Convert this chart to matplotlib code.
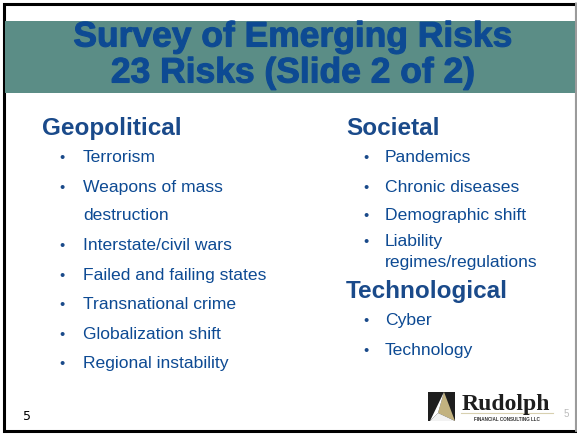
import matplotlib.pyplot as plt
import matplotlib.patheffects as pe
from matplotlib.patches import Rectangle, Polygon

# slide content
title_lines = ["Survey of Emerging Risks", "23 Risks (Slide 2 of 2)"]
left_header = "Geopolitical"
left_items = ["Terrorism", "Weapons of mass\ndestruction", "Interstate/civil wars",
              "Failed and failing states", "Transnational crime",
              "Globalization shift", "Regional instability"]
right_header = "Societal"
right_items = ["Pandemics", "Chronic diseases", "Demographic shift",
               "Liability\nregimes/regulations"]
right_header2 = "Technological"
right_items2 = ["Cyber", "Technology"]
page_number = "5"

W, H = 577, 435
BLUE = "#0d4a93"
HEAD = "#1a4a8a"
TEAL = "#5b8d86"
FONT = "Liberation Sans"
ITEM_FS = 12.6
HEAD_FS = 17.5

fig = plt.figure(figsize=(W / 100, H / 100), dpi=100)
ax = fig.add_axes([0, 0, 1, 1])
ax.set_xlim(0, W)
ax.set_ylim(H, 0)
ax.axis("off")

# frame
ax.add_patch(Rectangle((3.5, 4.5), W - 5, H - 8, fill=False, ec="black", lw=2.2))
ax.plot([575.5, 575.5], [4, 432], color="#bbbbbb", lw=1.2)

# title band; draw title glyphs as filled + stroked paths so they look heavier
ax.add_patch(Rectangle((5, 22), 570, 72, color=TEAL, lw=0))
heavy = [pe.PathPatchEffect(facecolor=BLUE, edgecolor=BLUE, linewidth=0.8)]
for i, line in enumerate(title_lines):
    ax.text(293, 47.5 + i * 36, line, ha="center", va="baseline", color=BLUE,
            fontsize=25.5, fontweight="bold", family=FONT, path_effects=heavy)


def item(xb, xt, y, txt):
    ax.text(xb, y, "\u2022", ha="center", va="center", color=HEAD, fontsize=10.5, family=FONT)
    ax.text(xt, y, txt, ha="left", va="center", color=BLUE, fontsize=ITEM_FS, family=FONT)


# left column
ax.text(42, 129, left_header, ha="left", va="center", color=HEAD, fontsize=HEAD_FS,
        fontweight="bold", family=FONT)
left_y = [158, 188, 246, 276, 305, 335, 364]
for txt, y in zip(left_items, left_y):
    a, _, b = txt.partition("\n")
    item(62, 83, y, a)
    if b:
        ax.text(83, y + 28, b, ha="left", va="center", color=BLUE, fontsize=ITEM_FS, family=FONT)

# right column
ax.text(346, 129, right_header, ha="left", va="center", color=HEAD, fontsize=HEAD_FS,
        fontweight="bold", family=FONT)
right_y = [158, 188, 216, 242]
for txt, y in zip(right_items, right_y):
    a, _, b = txt.partition("\n")
    item(366, 385, y, a)
    if b:
        ax.text(385, y + 21, b, ha="left", va="center", color=BLUE, fontsize=ITEM_FS, family=FONT)

ax.text(346, 292, right_header2, ha="left", va="center", color=HEAD, fontsize=HEAD_FS,
        fontweight="bold", family=FONT)
for txt, y in zip(right_items2, [321, 351]):
    item(366, 385, y, txt)

# page numbers
ax.text(27, 417, page_number, ha="center", va="center", color="black", fontsize=9, family="DejaVu Sans")
ax.text(566, 414, page_number, ha="center", va="center", color="#bbbbbb", fontsize=7, family=FONT)

# logo
ax.add_patch(Rectangle((428, 393), 27, 29, color="#1e1e1e", lw=0))
ax.add_patch(Polygon([(444, 393), (455, 422), (438, 414)], closed=True, color="#c2b280", lw=0))
ax.add_patch(Polygon([(444, 393), (438, 414), (430, 422)], closed=True, color="#ffffff", lw=0))
ax.add_patch(Polygon([(438, 414), (455, 422), (430, 422)], closed=True, color="#f2f2f2", lw=0))
ax.text(506, 405, "Rudolph", ha="center", va="center", color="#1e1e1e", fontsize=17,
        fontweight="bold", family="Liberation Serif")
ax.plot([461, 553], [414, 414], color="#d8d0b0", lw=0.8)
ax.text(507, 419.5, "FINANCIAL CONSULTING LLC", ha="center", va="center", color="#333333",
        fontsize=3.3, fontweight="bold", family=FONT)

fig.savefig("out.png", dpi=100)
